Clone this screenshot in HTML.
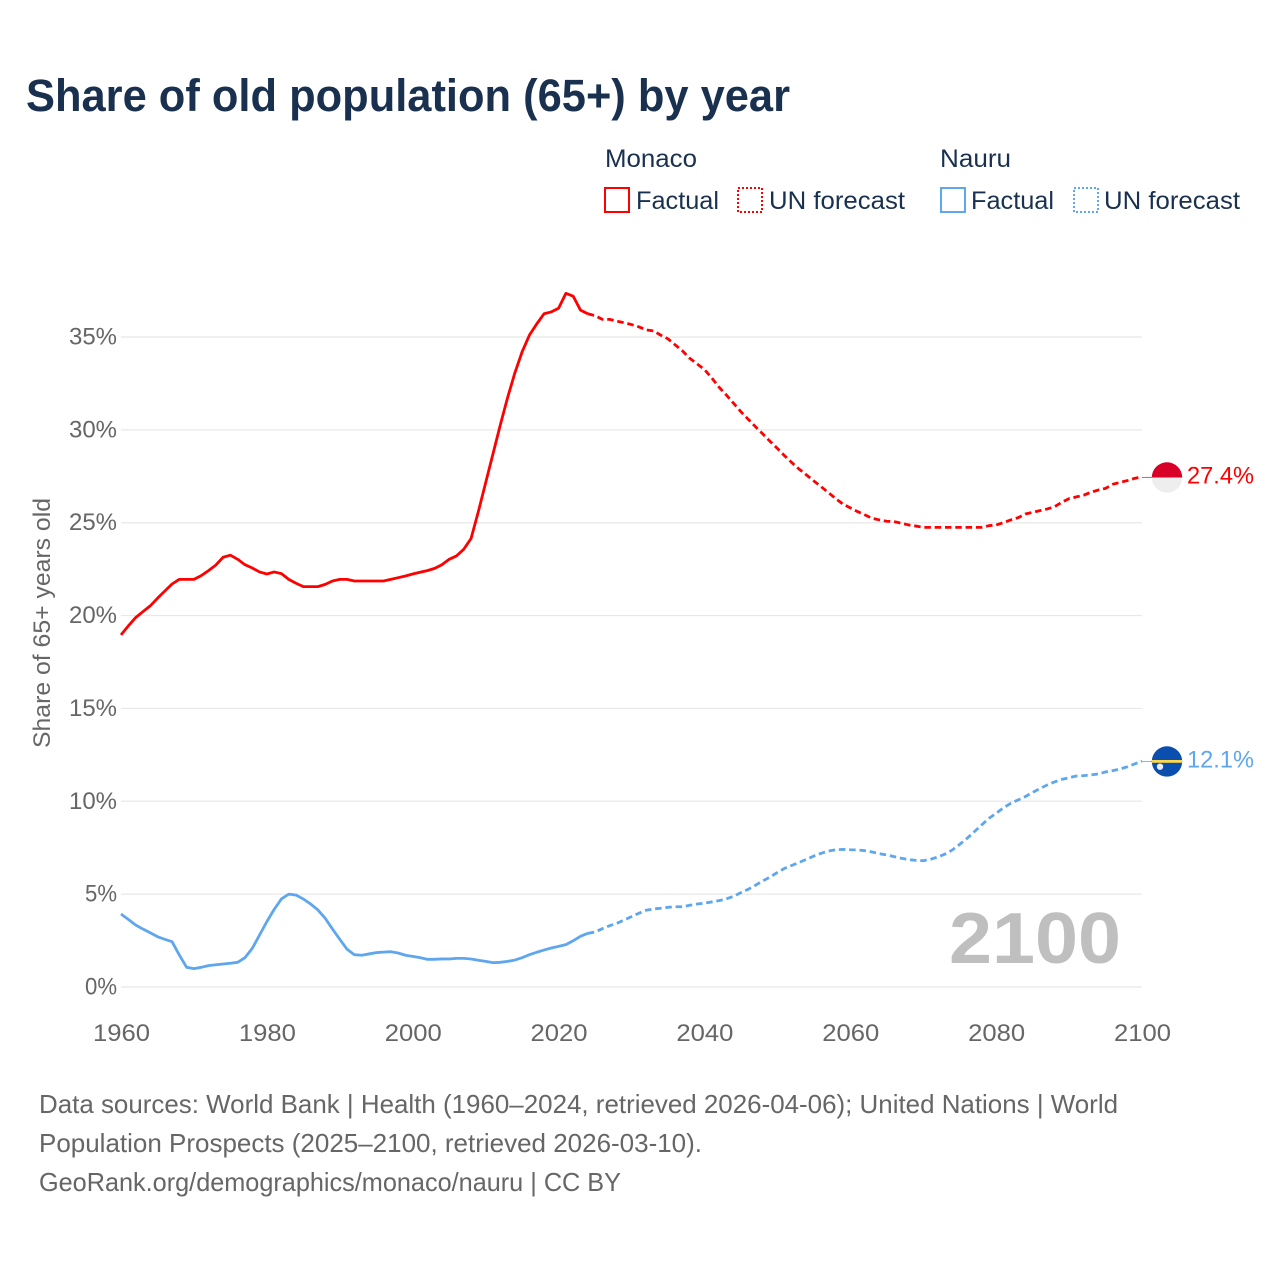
<!DOCTYPE html>
<html lang="en">
<head>
<meta charset="utf-8">
<title>Share of old population (65+) by year</title>
<style>
html,body{margin:0;padding:0;background:#fff;width:1280px;height:1280px;overflow:hidden}
svg{display:block}
text{font-family:"Liberation Sans",sans-serif}
</style>
</head>
<body>
<svg id="chart" xmlns="http://www.w3.org/2000/svg" width="1280" height="1280" viewBox="0 0 1280 1280">
  <rect x="0" y="0" width="1280" height="1280" fill="#ffffff"/>
  <text x="26" y="111" font-size="45" font-weight="700" fill="#19314f" textLength="764" lengthAdjust="spacingAndGlyphs">Share of old population (65+) by year</text>

  <g font-size="25" fill="#19314f">
    <text x="605" y="167" textLength="92" lengthAdjust="spacingAndGlyphs">Monaco</text>
    <text x="940" y="167" textLength="71" lengthAdjust="spacingAndGlyphs">Nauru</text>
    <rect x="605" y="188" width="24" height="24" fill="none" stroke="#ff0000" stroke-width="2"/>
    <text x="636" y="209" textLength="83" lengthAdjust="spacingAndGlyphs">Factual</text>
    <rect x="738" y="188" width="24" height="24" fill="none" stroke="#ff0000" stroke-width="2" stroke-dasharray="2 2"/>
    <text x="769" y="209" textLength="136" lengthAdjust="spacingAndGlyphs">UN forecast</text>
    <rect x="941" y="188" width="24" height="24" fill="none" stroke="#5ea6ee" stroke-width="2"/>
    <text x="971" y="209" textLength="83" lengthAdjust="spacingAndGlyphs">Factual</text>
    <rect x="1074" y="188" width="24" height="24" fill="none" stroke="#5ea6ee" stroke-width="2" stroke-dasharray="2 2"/>
    <text x="1104" y="209" textLength="136" lengthAdjust="spacingAndGlyphs">UN forecast</text>
  </g>

  <text transform="translate(50,748) rotate(-90)" font-size="24" fill="#666666" textLength="250" lengthAdjust="spacingAndGlyphs">Share of 65+ years old</text>

  <g id="grid"></g>
  <g id="yticks"></g>
  <g id="xticks"></g>

  <text id="year-stamp" x="949" y="963" font-size="72" font-weight="700" fill="#bfbfbf" textLength="172" lengthAdjust="spacingAndGlyphs">2100</text>

  <g id="series"></g>

  <g id="ends"></g>

  <g font-size="26" fill="#666666">
    <text x="39" y="1113" textLength="1079" lengthAdjust="spacingAndGlyphs">Data sources: World Bank | Health (1960–2024, retrieved 2026-04-06); United Nations | World</text>
    <text x="39" y="1152" textLength="663" lengthAdjust="spacingAndGlyphs">Population Prospects (2025–2100, retrieved 2026-03-10).</text>
    <text x="39" y="1191" textLength="582" lengthAdjust="spacingAndGlyphs">GeoRank.org/demographics/monaco/nauru | CC BY</text>
  </g>
</svg>
<script>
const xTickYears = [1960, 1980, 2000, 2020, 2040, 2060, 2080, 2100];
const yTickValues = [0, 5, 10, 15, 20, 25, 30, 35];
const yearsFactual = [1960,1961,1962,1963,1964,1965,1966,1967,1968,1969,1970,1971,1972,1973,1974,1975,1976,1977,1978,1979,1980,1981,1982,1983,1984,1985,1986,1987,1988,1989,1990,1991,1992,1993,1994,1995,1996,1997,1998,1999,2000,2001,2002,2003,2004,2005,2006,2007,2008,2009,2010,2011,2012,2013,2014,2015,2016,2017,2018,2019,2020,2021,2022,2023,2024];
const yearsForecast = [2024,2025,2026,2027,2028,2029,2030,2031,2032,2033,2034,2035,2036,2037,2038,2039,2040,2041,2042,2043,2044,2045,2046,2047,2048,2049,2050,2051,2052,2053,2054,2055,2056,2057,2058,2059,2060,2061,2062,2063,2064,2065,2066,2067,2068,2069,2070,2071,2072,2073,2074,2075,2076,2077,2078,2079,2080,2081,2082,2083,2084,2085,2086,2087,2088,2089,2090,2091,2092,2093,2094,2095,2096,2097,2098,2099,2100];
const monacoFactual = [18.96,19.44,19.89,20.21,20.52,20.93,21.32,21.7,21.95,21.95,21.95,22.15,22.42,22.72,23.14,23.25,23.03,22.74,22.56,22.35,22.24,22.35,22.26,21.95,21.74,21.56,21.56,21.56,21.68,21.86,21.95,21.95,21.86,21.86,21.86,21.86,21.86,21.95,22.04,22.13,22.24,22.33,22.42,22.54,22.74,23.03,23.21,23.57,24.15,25.6,27.15,28.7,30.25,31.72,33.06,34.2,35.1,35.7,36.25,36.35,36.55,37.35,37.2,36.45,36.25];
const monacoForecast = [36.25,36.15,35.95,35.95,35.85,35.77,35.67,35.55,35.38,35.33,35.1,34.9,34.57,34.25,33.85,33.55,33.25,32.8,32.3,31.88,31.43,30.98,30.57,30.17,29.78,29.38,29.0,28.6,28.23,27.88,27.57,27.25,26.94,26.62,26.3,26.0,25.8,25.6,25.42,25.24,25.15,25.08,25.06,24.97,24.88,24.82,24.75,24.75,24.75,24.75,24.75,24.75,24.75,24.75,24.75,24.84,24.88,25.0,25.15,25.27,25.47,25.56,25.65,25.74,25.86,26.1,26.3,26.39,26.48,26.64,26.76,26.85,27.07,27.17,27.27,27.39,27.48];
const nauruFactual = [3.93,3.64,3.34,3.12,2.92,2.71,2.57,2.44,1.72,1.06,0.99,1.06,1.15,1.2,1.24,1.28,1.33,1.58,2.08,2.8,3.52,4.18,4.74,5.0,4.95,4.74,4.47,4.15,3.7,3.12,2.57,2.03,1.74,1.71,1.78,1.85,1.88,1.9,1.83,1.71,1.65,1.58,1.49,1.49,1.51,1.51,1.54,1.54,1.51,1.44,1.38,1.31,1.33,1.38,1.45,1.58,1.74,1.87,1.99,2.1,2.19,2.28,2.49,2.73,2.89];
const nauruForecast = [2.89,2.96,3.14,3.3,3.43,3.61,3.79,3.97,4.13,4.2,4.24,4.29,4.32,4.32,4.4,4.47,4.51,4.58,4.65,4.75,4.88,5.08,5.26,5.48,5.71,5.92,6.17,6.39,6.55,6.71,6.88,7.05,7.2,7.32,7.39,7.41,7.39,7.38,7.34,7.27,7.18,7.11,7.02,6.93,6.86,6.82,6.8,6.88,7.0,7.16,7.38,7.68,8.0,8.36,8.72,9.08,9.35,9.65,9.89,10.07,10.25,10.48,10.68,10.88,11.04,11.18,11.27,11.36,11.38,11.42,11.47,11.58,11.65,11.74,11.86,12.01,12.17];
const monacoEndLabel = "27.4%";
const nauruEndLabel = "12.1%";

const NS = "http://www.w3.org/2000/svg";
const RED = "#ff0000";
const BLUE = "#5ea6ee";
function xScale(year) { return 121 + (year - 1960) * (1142 - 121) / 140; }
function yScale(value) { return 987 - value * (987 - 337) / 35; }
function make(tag, attrs, parent) {
  const el = document.createElementNS(NS, tag);
  for (const k in attrs) el.setAttribute(k, attrs[k]);
  parent.appendChild(el);
  return el;
}
function linePoints(years, values) {
  return years.map(function (y, i) { return xScale(y).toFixed(2) + "," + yScale(values[i]).toFixed(2); }).join(" ");
}

const grid = document.getElementById("grid");
const yticks = document.getElementById("yticks");
const xticks = document.getElementById("xticks");
const seriesLayer = document.getElementById("series");
const ends = document.getElementById("ends");

yTickValues.forEach(function (v) {
  const line = make("line", { x1: 121, x2: 1142, y1: yScale(v), y2: yScale(v), stroke: "#e8e8e8", "stroke-width": 1.2 }, grid);
  
  
  const label = make("text", { x: 117, y: yScale(v) + 7.5, "text-anchor": "end", "font-size": 24, fill: "#666666", textLength: v >= 10 ? 48 : 32, lengthAdjust: "spacingAndGlyphs" }, yticks);
  
  
  label.textContent = v + "%";
});

xTickYears.forEach(function (yr) {
  const label = make("text", { x: xScale(yr) + 0.5, y: 1041, "text-anchor": "middle", "font-size": 24, fill: "#666666", textLength: 57, lengthAdjust: "spacingAndGlyphs" }, xticks);
  
  
  label.textContent = yr;
});

const monacoFactualLine = make("polyline", { points: linePoints(yearsFactual, monacoFactual), fill: "none", stroke: RED, "stroke-width": 2.8, "stroke-linejoin": "round" }, seriesLayer);


const monacoForecastLine = make("polyline", { points: linePoints(yearsForecast, monacoForecast), fill: "none", stroke: RED, "stroke-width": 2.8, "stroke-linejoin": "round", "stroke-dasharray": "6.5 3.8" }, seriesLayer);


const nauruFactualLine = make("polyline", { points: linePoints(yearsFactual, nauruFactual), fill: "none", stroke: BLUE, "stroke-width": 2.8, "stroke-linejoin": "round" }, seriesLayer);


const nauruForecastLine = make("polyline", { points: linePoints(yearsForecast, nauruForecast), fill: "none", stroke: BLUE, "stroke-width": 2.8, "stroke-linejoin": "round", "stroke-dasharray": "6.5 3.8" }, seriesLayer);



const cx = 1167;
const monacoY = yScale(monacoForecast[monacoForecast.length - 1]) + 0.8;
const nauruY = yScale(nauruForecast[nauruForecast.length - 1]) + 0.5;

const monacoLeader = make("line", { x1: 1142, x2: 1153, y1: monacoY, y2: monacoY, stroke: RED, "stroke-width": 1, opacity: 0.7 }, ends);


const nauruLeader = make("line", { x1: 1142, x2: 1153, y1: nauruY, y2: nauruY, stroke: BLUE, "stroke-width": 1, opacity: 0.8 }, ends);



const monacoFlag = make("g", {}, ends);


make("circle", { cx: cx, cy: monacoY, r: 15.2, fill: "#eeeeee" }, monacoFlag);
make("path", { d: "M" + (cx - 15.2) + " " + monacoY + " A15.2 15.2 0 0 1 " + (cx + 15.2) + " " + monacoY + " Z", fill: "#d80027" }, monacoFlag);

const nauruFlag = make("g", {}, ends);


make("circle", { cx: cx, cy: nauruY, r: 15.2, fill: "#0a4fae" }, nauruFlag);
make("rect", { x: cx - 15.1, y: nauruY - 1.5, width: 30.2, height: 2.8, fill: "#ffd84a" }, nauruFlag);
make("circle", { cx: cx - 7, cy: nauruY + 5.2, r: 3.2, fill: "#e8eef6" }, nauruFlag);

const monacoValue = make("text", { x: 1187, y: monacoY + 6, "font-size": 24, fill: RED, textLength: 67, lengthAdjust: "spacingAndGlyphs" }, ends);


monacoValue.textContent = monacoEndLabel;
const nauruValue = make("text", { x: 1187, y: nauruY + 6, "font-size": 24, fill: BLUE, textLength: 67, lengthAdjust: "spacingAndGlyphs" }, ends);


nauruValue.textContent = nauruEndLabel;
</script>
</body>
</html>
